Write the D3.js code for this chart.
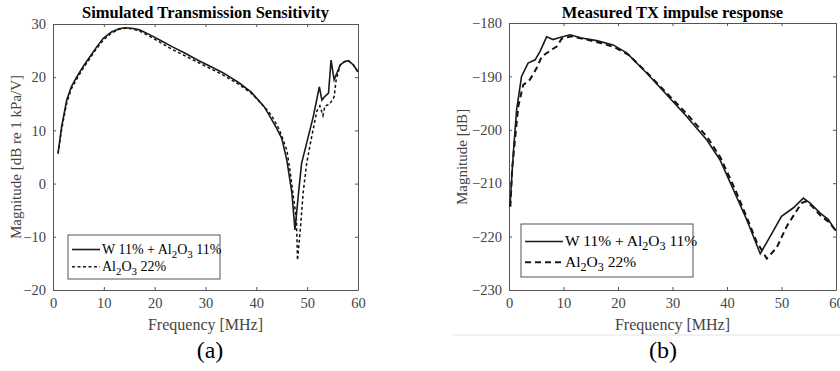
<!DOCTYPE html>
<html>
<head>
<meta charset="utf-8">
<script src="https://cdn.jsdelivr.net/npm/d3@7"></script>
<style>
  body { margin: 0; background: #fff; }
  svg text { font-family: "Liberation Serif", "Times New Roman", serif; }
</style>
</head>
<body>
<script>

// ---- (a) simulated transmission sensitivity, dB re 1 kPa/V
var simFreqSolid = [1, 1.7, 2.7, 3.6, 4.7, 6, 7.3, 8.6, 9.9, 11.5, 13, 14.2, 15.5, 17, 19, 21, 23.5, 26, 28.5, 31, 33.5, 36.5, 39, 41.5, 42.7, 44, 45, 46, 47, 47.6, 48.3, 48.9, 49.9, 51.2, 52.4, 52.9, 53.5, 54.2, 54.7, 55.3, 56.5, 57.3, 58.1, 59.1, 60];
var simSolid     = [5.8, 10.7, 15.7, 18.2, 20.1, 22.1, 23.9, 25.7, 27.3, 28.5, 29.1, 29.3, 29.2, 28.9, 28, 27, 25.7, 24.5, 23.2, 22, 20.8, 19, 17.2, 14.5, 12.6, 10.4, 8.5, 4.4, -1.8, -8.7, -1.8, 3.8, 7.6, 12.6, 18.2, 15.7, 16.4, 17, 23.2, 19.5, 22.3, 22.9, 23.1, 22.3, 21];

var simFreqDash  = [1, 1.7, 2.7, 3.6, 4.7, 6, 7.3, 8.6, 9.9, 11.5, 13, 14.2, 15.5, 17, 19, 21, 23.5, 26, 28.5, 31, 33.5, 36.5, 39, 41.5, 43, 44.5, 46, 46.6, 47.2, 47.9, 48.1, 48.7, 49.2, 49.9, 50.9, 51.9, 52.5, 53.1, 53.5, 54.4, 55.3, 55.7, 56.5, 57.3, 58.1, 59.1, 60];
var simDash      = [5.6, 10.2, 15.2, 17.8, 19.7, 21.8, 23.6, 25.4, 27, 28.3, 29, 29.2, 29.1, 28.7, 27.7, 26.6, 25.2, 24, 22.8, 21.6, 20.4, 18.7, 17, 14.5, 12.8, 10.2, 6.3, 2.6, -1.8, -6.8, -14.4, -8.1, -1.8, 3.8, 8.9, 13.6, 14.6, 12.8, 14.6, 14.9, 16.3, 19.5, 22.3, 22.9, 23.1, 22.3, 21];

// ---- (b) measured TX impulse response, dB
var measFreqSolid = [0.18, 0.8, 1.4, 2.3, 3.5, 4.8, 5.7, 6.9, 8.1, 9, 11.2, 13.3, 16.1, 19.1, 21.6, 25.3, 28.9, 32.6, 36.3, 38.7, 40.9, 43.6, 46.1, 47.9, 50, 52.2, 54, 55.2, 57.1, 58.6, 59.8, 60];
var measSolid     = [-214.3, -204.3, -196.2, -190, -187.5, -186.9, -185.3, -182.6, -183.1, -182.8, -182.2, -182.8, -183.3, -184.1, -185.6, -189.4, -193.4, -197.5, -201.9, -205.6, -210.6, -216.8, -223.2, -220, -216.2, -214.6, -212.8, -213.7, -215.6, -216.8, -218.7, -218.9];

var measFreqDash  = [0.25, 0.6, 1.1, 1.7, 2.6, 3.85, 5.1, 6, 7.8, 8.75, 9.7, 11.5, 14.3, 17, 19.5, 22, 25.5, 29, 32.7, 36.4, 38.8, 41.5, 43.3, 45.4, 47.3, 49.1, 51, 52.5, 53.7, 54.4, 55.5, 57.1, 58.6, 60];
var measDash      = [-214.4, -207, -201.8, -195.6, -191.6, -190.6, -188.4, -186.3, -185, -184.4, -182.9, -182.5, -183.1, -183.8, -184.6, -186, -189.5, -193.2, -197.1, -201.4, -205.2, -211.2, -215.6, -220.9, -224.1, -222.1, -218, -215.6, -213.7, -213.4, -214.2, -216, -217.2, -218.9];

var xTicks = [0, 10, 20, 30, 40, 50, 60];
var yTicksA = [-20, -10, 0, 10, 20, 30];
var yTicksB = [-230, -220, -210, -200, -190, -180];

var W = 840, H = 371;

var svg = d3.select("body")
  .append("svg")
    .attr("width", W)
    .attr("height", H);

// draws one panel
function drawPanel(cfg) {
  var x = d3.scaleLinear().domain([0, 60]).range([cfg.left, cfg.right]);
  var y = d3.scaleLinear().domain(cfg.yDomain).range([cfg.bottom, cfg.top]);

  var g = svg.append("g");
  var axisColor = "#555";

  // box ticks, inward
  var bottomAxis = d3.axisBottom(x).tickValues(xTicks).tickSizeInner(-3).tickSizeOuter(0).tickPadding(8);
  var topAxis = d3.axisTop(x).tickValues(xTicks).tickSizeInner(-3).tickSizeOuter(0).tickFormat("");
  var leftAxis = d3.axisLeft(y).tickValues(cfg.yTicks).tickSizeInner(-3).tickSizeOuter(0).tickPadding(7);
  var rightAxis = d3.axisRight(y).tickValues(cfg.yTicks).tickSizeInner(-3).tickSizeOuter(0).tickFormat("");

  var axes = [
    [bottomAxis, "translate(0," + cfg.bottom + ")"],
    [topAxis, "translate(0," + cfg.top + ")"],
    [leftAxis, "translate(" + cfg.left + ",0)"],
    [rightAxis, "translate(" + cfg.right + ",0)"]
  ];
  axes.forEach(function(a) {
    var ag = g.append("g").attr("transform", a[1]).call(a[0]);
    ag.selectAll("path, line").attr("stroke", axisColor).attr("stroke-width", 1);
    ag.selectAll("text")
      .attr("fill", "#444")
      .style("font-size", "14.5px")
      .style("font-family", "Liberation Serif");
  });

  var line = d3.line()
    .x(function(d) { return x(d[0]); })
    .y(function(d) { return y(d[1]); });

  g.append("path")
    .datum(d3.zip(cfg.dashF, cfg.dashV))
    .attr("d", line)
    .attr("fill", "none")
    .attr("stroke", "#111")
    .attr("stroke-width", cfg.dashWidth)
    .attr("stroke-dasharray", cfg.dashArray);

  g.append("path")
    .datum(d3.zip(cfg.solidF, cfg.solidV))
    .attr("d", line)
    .attr("fill", "none")
    .attr("stroke", "#1a1a1a")
    .attr("stroke-width", 1.6);

  // title
  g.append("text")
    .attr("x", (cfg.left + cfg.right) / 2 + cfg.titleShift)
    .attr("y", 18)
    .attr("text-anchor", "middle")
    .style("font-size", "16.5px")
    .style("font-weight", "bold")
    .text(cfg.title);

  // x label
  g.append("text")
    .attr("x", (cfg.left + cfg.right) / 2)
    .attr("y", 330)
    .attr("text-anchor", "middle")
    .attr("fill", "#444")
    .style("font-size", "16px")
    .text("Frequency [MHz]");

  // y label
  g.append("text")
    .attr("transform", "translate(" + cfg.yLabelX + ",157) rotate(-90)")
    .attr("text-anchor", "middle")
    .attr("fill", "#444")
    .style("font-size", "15px")
    .text(cfg.yLabel);

  // panel letter
  g.append("text")
    .attr("x", cfg.letterX)
    .attr("y", 358)
    .attr("text-anchor", "middle")
    .style("font-size", "24px")
    .text(cfg.letter);

  // legend
  var lg = g.append("g").attr("transform", "translate(" + cfg.legX + "," + cfg.legY + ")");
  lg.append("rect")
    .attr("width", cfg.legW).attr("height", cfg.legH)
    .attr("fill", "#fff").attr("stroke", axisColor).attr("stroke-width", 1);

  [0, 1].forEach(function(i) {
    var ry = cfg.legH * (i === 0 ? 0.33 : 0.72);
    lg.append("line")
      .attr("x1", 4).attr("x2", cfg.legLine)
      .attr("y1", ry).attr("y2", ry)
      .attr("stroke", "#1a1a1a")
      .attr("stroke-width", i === 0 ? 1.6 : cfg.dashWidth)
      .attr("stroke-dasharray", i === 0 ? null : cfg.dashArray);
    var t = lg.append("text")
      .attr("x", cfg.legLine + 2)
      .attr("y", ry + 4.5)
      .style("font-size", cfg.legFont + "px");
    var sub = (cfg.legFont * 0.78) + "px";
    t.append("tspan").text(i === 0 ? "W 11% + Al" : "Al");
    t.append("tspan").attr("dy", 4).style("font-size", sub).text("2");
    t.append("tspan").attr("dy", -4).text("O");
    t.append("tspan").attr("dy", 4).style("font-size", sub).text("3");
    t.append("tspan").attr("dy", -4).text(i === 0 ? " 11%" : " 22%");
  });
}

drawPanel({
  left: 53, right: 358, top: 24, bottom: 290,
  yDomain: [-20, 30], yTicks: yTicksA,
  solidF: simFreqSolid, solidV: simSolid,
  dashF: simFreqDash, dashV: simDash,
  dashArray: "3,2.5", dashWidth: 1.5,
  title: "Simulated Transmission Sensitivity", titleShift: 0,
  yLabel: "Magnitude [dB re 1 kPa/V]", yLabelX: 21,
  letter: "(a)", letterX: 210,
  legX: 68, legY: 235, legW: 152, legH: 44, legLine: 32, legFont: 14
});

drawPanel({
  left: 509, right: 836, top: 23, bottom: 290,
  yDomain: [-230, -180], yTicks: yTicksB,
  solidF: measFreqSolid, solidV: measSolid,
  dashF: measFreqDash, dashV: measDash,
  dashArray: "6,4", dashWidth: 2,
  title: "Measured TX impulse response", titleShift: 0,
  yLabel: "Magnitude [dB]", yLabelX: 467,
  letter: "(b)", letterX: 663,
  legX: 521, legY: 224, legW: 172, legH: 53, legLine: 42, legFont: 15.5
});

// faint separator under panel (b)
svg.append("line")
  .attr("x1", 452).attr("x2", 840)
  .attr("y1", 335).attr("y2", 335)
  .attr("stroke", "#e4e4e4").attr("stroke-width", 1);

</script>
</body>
</html>
